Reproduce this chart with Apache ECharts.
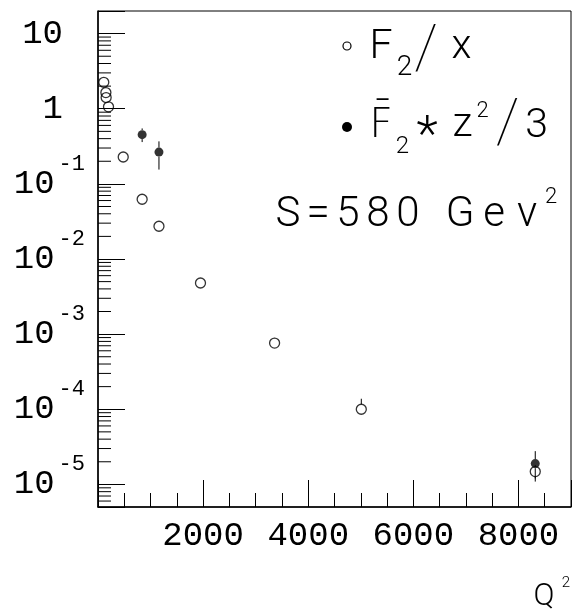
<!DOCTYPE html>
<html><head><meta charset="utf-8">
<script src="https://cdn.jsdelivr.net/npm/echarts@6/dist/echarts.min.js"></script>
<style>html,body{margin:0;padding:0;background:#fff}#c{width:575px;height:613px}</style>
</head><body><div id="c"></div>
<script>
// ---- data ----
const q2F2x = [110, 150, 155, 200, 480, 840, 1160, 1950, 3360, 5010, 8320];
const f2x = [2.25, 1.64, 1.41, 1.06, 0.228, 0.0624, 0.0273, 0.00479, 0.00076, 0.000100, 0.0000148];
const f2xLow = [null, 1.50, null, null, null, null, null, null, 0.00066, 0.000087, 0.000012];
const f2xHigh = [null, 1.80, null, null, null, null, null, null, 0.00089, 0.000138, 0.000018];
const q2F2z = [840, 1160, 8320];
const f2z = [0.452, 0.265, 0.0000189];
const f2zLow = [0.36, 0.155, 0.0000109];
const f2zHigh = [0.547, 0.368, 0.0000277];
const xLabelValues = [2000, 4000, 6000, 8000];
const yDecades = [-6, -5, -4, -3, -2, -1, 0, 1];
const minorMultipliers = [2, 3, 4, 5, 6, 7, 8, 9];
const yMin = 5e-6, yMax = 20, xMin = 0, xMax = 9000;

const MONO = '"Liberation Mono", "DejaVu Sans Mono", monospace';
const SANS = 'Roboto, "DejaVu Sans", sans-serif';

const openPts = q2F2x.map((x, i) => [x, f2x[i]]);
const fillPts = q2F2z.map((x, i) => [x, f2z[i]]);
const openErr = [];
q2F2x.forEach((x, i) => { if (f2xLow[i] != null) openErr.push([x, f2xLow[i], f2xHigh[i], f2x[i]]); });
const fillErr = q2F2z.map((x, i) => [x, f2zLow[i], f2zHigh[i], f2z[i]]);

const minorVals = [];
yDecades.forEach(d => minorMultipliers.forEach(m => {
  const v = m * Math.pow(10, d);
  if (v > yMin && v < yMax) minorVals.push([xMin, v]);
}));

function errRender(r) {
  return function (params, api) {
    const x = api.value(0);
    const c = api.coord([x, api.value(3)]);
    const lo = api.coord([x, api.value(1)]);
    const hi = api.coord([x, api.value(2)]);
    const ch = [];
    const st = { stroke: '#000', lineWidth: 1 };
    if (hi[1] < c[1] - r) ch.push({ type: 'line', shape: { x1: c[0], y1: hi[1], x2: c[0], y2: c[1] - r }, style: st });
    if (lo[1] > c[1] + r) ch.push({ type: 'line', shape: { x1: c[0], y1: c[1] + r, x2: c[0], y2: lo[1] }, style: st });
    return { type: 'group', children: ch };
  };
}

// rich token helper: fixed box width, glyph centred, vertical shift via padding
function tok(size, width, shift, weight) {
  const pt = shift > 0 ? 2 * shift : 0, pb = shift < 0 ? -2 * shift : 0;
  return { fontFamily: SANS, fontWeight: weight || 300, fontSize: size, width: width, align: 'center',
           verticalAlign: 'middle', padding: [pt, 0, pb, 0], color: '#000' };
}

const chart = echarts.init(document.getElementById('c'), null, { renderer: 'canvas' });
chart.setOption({
  animation: false,
  backgroundColor: '#fff',
  grid: { left: 98, right: 4, top: 11, bottom: 106, show: true, borderColor: '#000', borderWidth: 1, backgroundColor: 'transparent', outerBoundsMode: 'none' },
  xAxis: [{
    type: 'value', min: xMin, max: xMax, interval: 2000, position: 'bottom',
    axisLine: { show: true, lineStyle: { color: '#000', width: 1.5 } },
    axisTick: { show: true, inside: true, length: 27, lineStyle: { color: '#000', width: 1 } },
    splitLine: { show: false },
    axisLabel: {
      margin: 12, color: '#000', fontFamily: MONO, fontSize: 34,
      showMinLabel: true, showMaxLabel: true,
      formatter: v => xLabelValues.indexOf(v) >= 0 ? String(v) : ''
    }
  }, {
    type: 'value', min: xMin, max: xMax, interval: 500, position: 'bottom',
    axisLine: { show: false },
    axisTick: { show: true, inside: true, length: 14, lineStyle: { color: '#000', width: 1 } },
    splitLine: { show: false },
    axisLabel: { show: false }
  }],
  yAxis: {
    type: 'log', logBase: 10, min: yMin, max: yMax,
    axisLine: { show: true, lineStyle: { color: '#000', width: 1.5 } },
    axisTick: { show: true, inside: true, length: 27, lineStyle: { color: '#000', width: 1 } },
    splitLine: { show: false },
    minorTick: { show: false },
    axisLabel: {
      margin: 13, color: '#000', fontFamily: MONO, fontSize: 34,
      formatter: function (v) {
        const l = Math.log10(v);
        const e = Math.round(l);
        if (Math.abs(l - e) > 1e-6) return '';
        if (e === 1) return '{p|10}';
        if (e === 0) return '{p|1}';
        return '{b|10}{s|' + e + '}';
      },
      rich: {
        p: { fontFamily: MONO, fontSize: 34, color: '#000', padding: [0, 22, 0, 0], verticalAlign: 'middle' },
        b: { fontFamily: MONO, fontSize: 34, color: '#000', verticalAlign: 'middle' },
        s: { fontFamily: MONO, fontSize: 22, color: '#000', padding: [0, 0, 40, 4], verticalAlign: 'middle' }
      }
    }
  },
  series: [
    {
      type: 'custom', name: 'minorTicks', silent: true, xAxisIndex: 0, yAxisIndex: 0,
      data: minorVals, encode: { x: 0, y: 1 },
      renderItem: function (params, api) {
        const p = api.coord([api.value(0), api.value(1)]);
        return { type: 'line', shape: { x1: p[0], y1: p[1], x2: p[0] + 13, y2: p[1] }, style: { stroke: '#000', lineWidth: 1 } };
      }
    },
    { type: 'custom', name: 'errOpen', silent: true, data: openErr, encode: { x: 0, y: 3 }, renderItem: errRender(5) },
    { type: 'custom', name: 'errFill', silent: true, data: fillErr, encode: { x: 0, y: 3 }, renderItem: errRender(4.5) },
    {
      type: 'scatter', name: 'F2/x', data: openPts, symbol: 'circle', symbolSize: 10, silent: true,
      itemStyle: { color: 'rgba(255,255,255,0)', borderColor: '#000', borderWidth: 1.3 }
    },
    {
      type: 'scatter', name: 'F2*z2/3', data: fillPts, symbol: 'circle', symbolSize: 9, silent: true,
      itemStyle: { color: '#000', borderColor: '#000', borderWidth: 0 }
    }
  ],
  graphic: [
    { type: 'circle', shape: { cx: 347, cy: 46, r: 4 }, style: { fill: '#fff', stroke: '#000', lineWidth: 1.2 } },
    { type: 'circle', shape: { cx: 347, cy: 127, r: 5 }, style: { fill: '#000' } },
    {
      type: 'text', x: 366, y: 48,
      style: {
        text: '{F|F}{sub|2}{sl|/}{x|x}', verticalAlign: 'middle', align: 'left', fill: '#000',
        rich: { F: tok(41, 30, 0), sub: tok(28, 17, 20), sl: tok(62, 26, 4, 100), x: tok(41, 45, 0) }
      }
    },
    {
      type: 'text', x: 366, y: 126.5,
      style: {
        text: '{F|F\u0304}{sub|2}{st|*}{z|z}{sup|2}{sl|/}{t|3}', verticalAlign: 'middle', align: 'left', fill: '#000',
        rich: { F: tok(41, 30, 0), sub: tok(24, 13, 20), st: tok(50, 36, 12), z: tok(41, 35, -1),
                sup: tok(22, 5, -15), sl: tok(62, 45, 0, 100), t: tok(41, 13, 0) }
      }
    },
    {
      type: 'text', x: 273, y: 215.5,
      style: {
        text: '{c|S}{c|=}{c|5}{c|8}{c|0}{sp| }{g|G}{e|e}{v|v}{sup|2}', verticalAlign: 'middle', align: 'left', fill: '#000',
        rich: { c: tok(42, 30, 0), sp: tok(42, 21, 0), g: tok(42, 32, 0), e: tok(42, 36, 0), v: tok(42, 30, 0), sup: tok(22, 18, -18) }
      }
    },
    {
      type: 'text', x: 531, y: 597,
      style: {
        text: '{q|Q}{sup|2}', verticalAlign: 'middle', align: 'left', fill: '#000',
        rich: { q: tok(31, 26, 0), sup: tok(15, 18, -13.5) }
      }
    }
  ]
});
</script>
</body></html>
